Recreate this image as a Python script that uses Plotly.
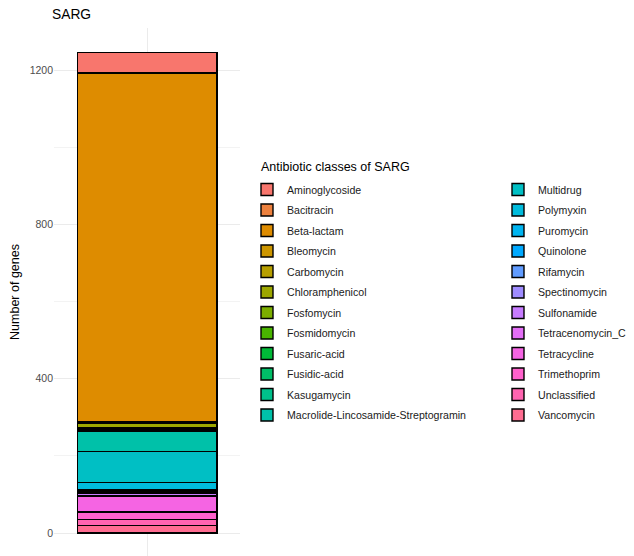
import math
import plotly.graph_objects as go

classes = ["Aminoglycoside", "Bacitracin", "Beta-lactam", "Bleomycin", "Carbomycin",
           "Chloramphenicol", "Fosfomycin", "Fosmidomycin", "Fusaric-acid", "Fusidic-acid",
           "Kasugamycin", "Macrolide-Lincosamide-Streptogramin", "Multidrug", "Polymyxin",
           "Puromycin", "Quinolone", "Rifamycin", "Spectinomycin", "Sulfonamide",
           "Tetracenomycin_C", "Tetracycline", "Trimethoprim", "Unclassified", "Vancomycin"]
genes = [52, 3, 903, 2, 2,
         10, 2, 2, 2, 3,
         2, 52, 80, 20,
         3, 2, 2, 2, 4,
         2, 42, 19, 16, 19]
group_label = "SARG"
legend_title = "Antibiotic classes of SARG"
y_ticks = [0, 400, 800, 1200]
y_minor = [200, 600, 1000]


def hcl(h, c=100.0, l=65.0):
    Xn, Yn, Zn = 95.047, 100.0, 108.883
    Y = Yn * ((l + 16) / 116) ** 3 if l > 8 else Yn * l / 903.3
    u = c * math.cos(math.radians(h))
    v = c * math.sin(math.radians(h))
    den = Xn + 15 * Yn + 3 * Zn
    un, vn = 4 * Xn / den, 9 * Yn / den
    up = u / (13 * l) + un
    vp = v / (13 * l) + vn
    X = 9.0 * Y * up / (4 * vp)
    Z = -X / 3 - 5 * Y + 3 * Y / vp
    X, Y, Z = X / 100, Y / 100, Z / 100
    r = 3.240479 * X - 1.537150 * Y - 0.498535 * Z
    g = -0.969256 * X + 1.875992 * Y + 0.041556 * Z
    b = 0.055648 * X - 0.204043 * Y + 1.057311 * Z

    def gam(t):
        t = 12.92 * t if t <= 0.0031308 else 1.055 * t ** (1 / 2.4) - 0.055
        return int(round(min(max(t, 0), 1) * 255))
    return "#%02X%02X%02X" % (gam(r), gam(g), gam(b))


n = len(classes)
colors = [hcl(15 + 360 * i / n) for i in range(n)]

fig = go.Figure()
for i in reversed(range(n)):
    fig.add_trace(go.Bar(
        x=[1], y=[genes[i]], name=classes[i], width=0.9,
        marker=dict(color=colors[i], line=dict(color="black", width=1.4)),
        legendgroup=classes[i], legendrank=i + 1,
        legend="legend" if i < 12 else "legend2",
        hovertemplate=classes[i] + ": %{y}<extra></extra>",
    ))

# the page places the figure 8px from the top-left corner
OFF = 8
W, H = 634 - OFF, 556 - OFF
L, R, T, B = 54 - OFF, 0, 28 - OFF, 0
PW, PH = W - L - R, H - T - B


def px(x):
    return (x - OFF - L) / PW


def py(y):
    return 1 - (y - OFF - T) / PH


fig.add_annotation(text=legend_title, xref="paper", yref="paper", x=px(259), y=py(167),
                   xanchor="left", yanchor="middle", showarrow=False,
                   font=dict(size=12.5, color="black"))

fig.update_layout(
    width=W, height=H, barmode="stack",
    paper_bgcolor="white", plot_bgcolor="white",
    font=dict(family="Liberation Sans, Arial, sans-serif", color="black"),
    margin=dict(l=L, r=R, t=T, b=B, autoexpand=False),
    title=dict(text=group_label, x=(52 - OFF) / W, xref="container", xanchor="left",
               y=1 - (14 - OFF) / H, yref="container", yanchor="middle",
               font=dict(size=13.8, color="black")),
    xaxis=dict(domain=[0, px(240.3)], range=[0.4, 1.6], tickvals=[1],
               showticklabels=False, showgrid=True, gridcolor="#EBEBEB", gridwidth=1.1,
               zeroline=False, showline=False, ticks=""),
    yaxis=dict(range=[-59.6, 1309], tickvals=y_ticks, showgrid=True,
               gridcolor="#EBEBEB", gridwidth=1.1, zeroline=False, showline=False,
               ticks="", tickfont=dict(size=10.5, color="#4D4D4D"),
               title=dict(text="Number of genes", font=dict(size=12.5, color="black"),
                          standoff=8),
               minor=dict(tickvals=y_minor, showgrid=True, gridcolor="#F3F3F3",
                          gridwidth=0.6)),
    legend=dict(xref="paper", yref="paper", x=px(247), y=py(175),
                xanchor="left", yanchor="top", tracegroupgap=1.5,
                font=dict(size=10.6, color="#1A1A1A"), bgcolor="rgba(0,0,0,0)"),
    legend2=dict(xref="paper", yref="paper", x=px(498), y=py(175),
                 xanchor="left", yanchor="top", tracegroupgap=1.5,
                 font=dict(size=10.6, color="#1A1A1A"), bgcolor="rgba(0,0,0,0)"),
)

fig.write_html("out.html")
